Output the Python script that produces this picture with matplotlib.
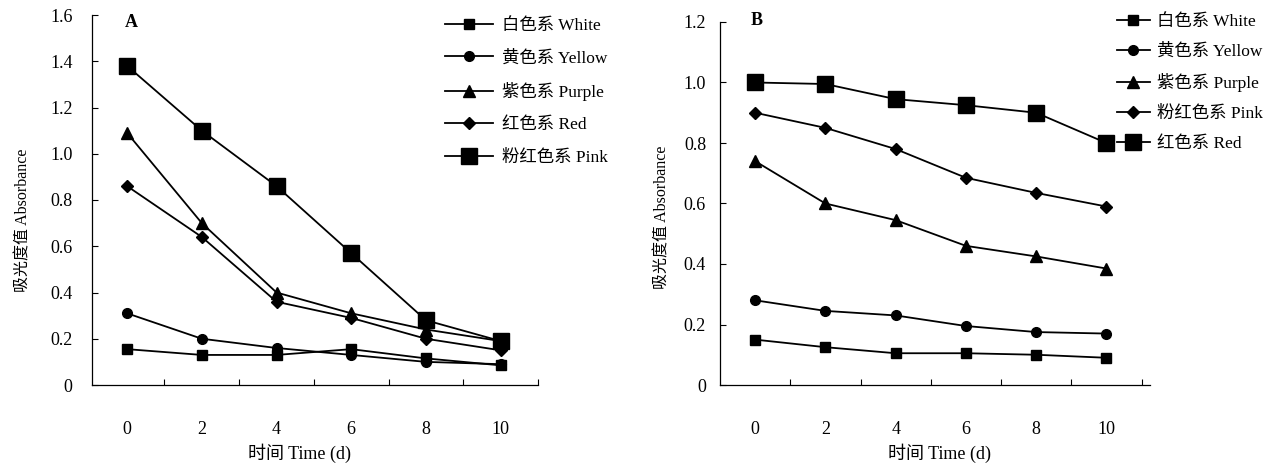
import matplotlib
matplotlib.use("Agg")
import matplotlib.pyplot as plt
from matplotlib.ticker import FixedLocator

plt.rcParams['font.family'] = ['Liberation Serif', 'Noto Sans CJK SC']
plt.rcParams['font.size'] = 12

days = [0, 2, 4, 6, 8, 10]

# Panel A
a_labels = ["白色系 White", "黄色系 Yellow", "紫色系 Purple", "红色系 Red", "粉红色系 Pink"]
a_white = [0.155, 0.13, 0.13, 0.155, 0.115, 0.085]
a_yellow = [0.31, 0.20, 0.16, 0.13, 0.10, 0.09]
a_purple = [1.09, 0.70, 0.40, 0.31, 0.24, 0.19]
a_red = [0.86, 0.64, 0.36, 0.29, 0.20, 0.15]
a_pink = [1.38, 1.10, 0.86, 0.57, 0.28, 0.19]

# Panel B
b_labels = ["白色系 White", "黄色系 Yellow", "紫色系 Purple", "粉红色系 Pink", "红色系 Red"]
b_white = [0.15, 0.125, 0.105, 0.105, 0.10, 0.09]
b_yellow = [0.28, 0.245, 0.23, 0.195, 0.175, 0.17]
b_purple = [0.74, 0.60, 0.545, 0.46, 0.425, 0.385]
b_pink = [0.90, 0.85, 0.78, 0.685, 0.635, 0.59]
b_red = [1.00, 0.995, 0.945, 0.925, 0.90, 0.80]

a_yticks = [0, 0.2, 0.4, 0.6, 0.8, 1.0, 1.2, 1.4, 1.6]
a_yticklabels = ["0", "0.2", "0.4", "0.6", "0.8", "1.0", "1.2", "1.4", "1.6"]
b_yticks = [0, 0.2, 0.4, 0.6, 0.8, 1.0, 1.2]
b_yticklabels = ["0", "0.2", "0.4", "0.6", "0.8", "1.0", "1.2"]

W, H = 1282, 473
fig = plt.figure(figsize=(W / 100, H / 100), dpi=100)

small_sq = dict(marker='s', ms=7)
circ = dict(marker='o', ms=7)
tri = dict(marker='^', ms=8)
diam = dict(marker='D', ms=6)
big_sq = dict(marker='s', ms=11.5)

TICK_FS = 13
LEG_FS = 12.5


def style_axes(ax, yticks, yticklabels, ylim, xlim, ypad):
    x = list(range(len(days)))
    ax.set_xlim(*xlim)
    ax.set_ylim(*ylim)
    ax.spines['top'].set_visible(False)
    ax.spines['right'].set_visible(False)
    ax.spines['left'].set_linewidth(0.9)
    ax.spines['bottom'].set_linewidth(0.9)
    ax.set_xticks(x)
    ax.set_xticklabels([str(d) for d in days])
    ax.xaxis.set_minor_locator(FixedLocator([i + 0.5 for i in x]))
    ax.tick_params(axis='x', which='major', length=0, pad=26, labelsize=TICK_FS)
    ax.tick_params(axis='x', which='minor', direction='in', length=4, width=0.8)
    ax.set_yticks(yticks)
    ax.set_yticklabels(yticklabels)
    ax.tick_params(axis='y', which='major', direction='in', length=4, width=0.8,
                   pad=ypad, labelsize=TICK_FS)
    ax.set_xlabel("时间 Time (d)", fontsize=13)
    ax.set_ylabel("吸光度值 Absorbance", fontsize=11.5)


def plot_series(ax, series, labels, styles):
    x = list(range(len(days)))
    handles = []
    for ys, lab, st in zip(series, labels, styles):
        h, = ax.plot(x, ys, color='black', lw=1.3, label=lab, clip_on=False, **st)
        handles.append(h)
    return handles


# Panel A
axA = fig.add_axes([92 / W, 1 - 385 / H, (538 - 92) / W, (385 - 15) / H])
hA = plot_series(axA, [a_white, a_yellow, a_purple, a_red, a_pink], a_labels,
                 [small_sq, circ, tri, diam, big_sq])
style_axes(axA, a_yticks, a_yticklabels, (0, 1.6), (-0.47, 5.5), 14)
axA.yaxis.set_label_coords(-0.135, 0.446)
axA.xaxis.set_label_coords(0.466, -0.157)
axA.text(-0.03, 1.003, "A", transform=axA.get_xaxis_transform(), fontsize=13,
         fontweight='bold', ha='left', va='top')
fig.legend(handles=hA, loc='upper left', bbox_to_anchor=(445 / W, 1 - 18 / H),
           frameon=False, handlelength=2.76, handletextpad=0.52, labelspacing=0.92,
           borderpad=0, borderaxespad=0, fontsize=LEG_FS)

# Panel B
axB = fig.add_axes([720 / W, 1 - 385 / H, (1150 - 720) / W, (385 - 22) / H])
hB = plot_series(axB, [b_white, b_yellow, b_purple, b_pink, b_red], b_labels,
                 [small_sq, circ, tri, diam, big_sq])
style_axes(axB, b_yticks, b_yticklabels, (0, 1.2), (-0.5, 5.62), 10)
axB.yaxis.set_label_coords(-0.114, 0.463)
axB.xaxis.set_label_coords(0.51, -0.16)
axB.text(-0.07, 1.028, "B", transform=axB.get_xaxis_transform(), fontsize=13,
         fontweight='bold', ha='left', va='top')
fig.legend(handles=hB, loc='upper left', bbox_to_anchor=(1117 / W, 1 - 14 / H),
           frameon=False, handlelength=1.9, handletextpad=0.4, labelspacing=0.78,
           borderpad=0, borderaxespad=0, fontsize=LEG_FS)

fig.savefig("out.png", dpi=100)
